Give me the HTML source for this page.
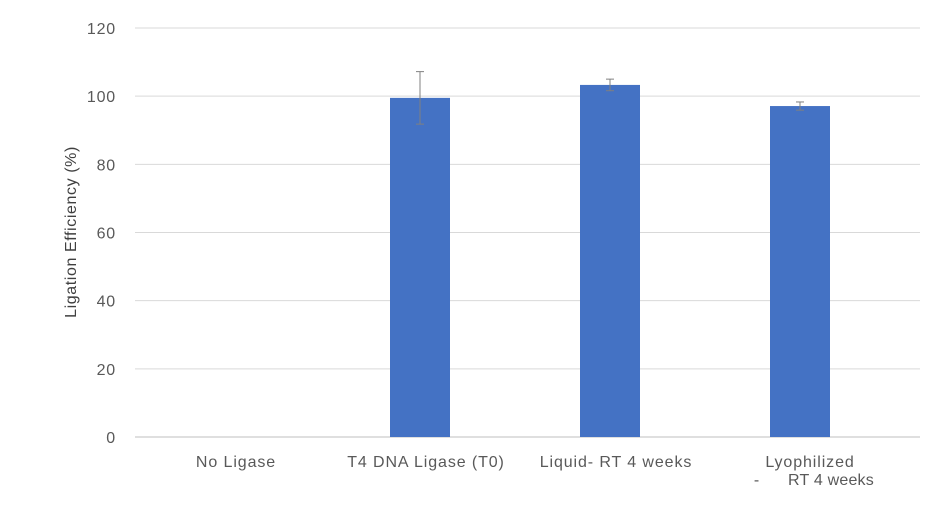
<!DOCTYPE html>
<html>
<head>
<meta charset="utf-8">
<style>
html,body{margin:0;padding:0;background:#fff;}
svg{display:block;font-family:"Liberation Sans","Noto Sans CJK SC",sans-serif;}
</style>
</head>
<body>
<svg id="chart" width="945" height="507" viewBox="0 0 945 507">
  <g id="grid"></g>
  <g id="yticks"></g>
  <g id="bars"></g>
  <g id="errs"></g>
  <g id="xlabels"></g>
  <text transform="translate(76,232) rotate(-90)" text-anchor="middle" font-size="16" letter-spacing="0.6" fill="#404040">Ligation Efficiency (%)</text>
</svg>
<script>
const categories = ["No Ligase", "T4 DNA Ligase (T0)", "Liquid- RT 4 weeks", "Lyophilized - RT 4 weeks"];
const values = [0, 99.5, 103.3, 97.1];
const errors = [0, 7.7, 1.7, 1.2];
const yTicks = [0, 20, 40, 60, 80, 100, 120];

const NS = "http://www.w3.org/2000/svg";
const plotLeft = 135, plotRight = 895, y0 = 437, yTop = 28, yMax = 120;
const band = (plotRight - plotLeft) / categories.length;
const barW = 60;
function yScale(v){ return y0 - (v / yMax) * (y0 - yTop); }
function xCenter(i){ return plotLeft + band * (i + 0.5); }
function mk(tag, attrs, parent){ const e = document.createElementNS(NS, tag); for (const k in attrs) e.setAttribute(k, attrs[k]); parent.appendChild(e); return e; }

const grid = document.getElementById("grid"), yt = document.getElementById("yticks");
yTicks.forEach(t => {
  const y = yScale(t);
  const l = mk("line", {x1: plotLeft, x2: 920, y1: y, y2: y, stroke: t === 0 ? "#bfbfbf" : "#d9d9d9", "stroke-width": 1}, grid);
  
  
  const tx = mk("text", {x: 116, y: y + 6, "text-anchor": "end", "font-size": 16, "letter-spacing": 0.8, fill: "#595959"}, yt);
  tx.textContent = t;
  
  
});

const bars = document.getElementById("bars"), errs = document.getElementById("errs"), xl = document.getElementById("xlabels");
categories.forEach((c, i) => {
  const cx = xCenter(i);
  if (values[i] > 0) {
    const r = mk("rect", {x: cx - barW/2, y: yScale(values[i]), width: barW, height: y0 - yScale(values[i]), fill: "#4472c4"}, bars);
    
    
  }
  if (errors[i] > 0) {
    const top = yScale(values[i] + errors[i]), bot = yScale(values[i] - errors[i]);
    const g = mk("g", {stroke: "#808080", "stroke-width": 1}, errs);
    
    
    mk("line", {x1: cx, x2: cx, y1: top, y2: bot}, g);
    mk("line", {x1: cx - 4, x2: cx + 4, y1: top, y2: top}, g);
    mk("line", {x1: cx - 4, x2: cx + 4, y1: bot, y2: bot}, g);
  }
  const t = mk("text", {"text-anchor": "middle", "font-size": 16, "letter-spacing": 0.9, fill: "#595959"}, xl);
  
  
  if (c.indexOf(" - ") >= 0) {
    const parts = c.split(" - ");
    const a = mk("tspan", {x: cx + 10, y: 467}, t); a.textContent = parts[0];
    const d = mk("tspan", {x: cx - 43, y: 485}, t); d.textContent = "-";
    const b = mk("tspan", {x: cx + 31, y: 485, "letter-spacing": 0.2}, t); b.textContent = parts[1];
  } else {
    const a = mk("tspan", {x: cx + 6, y: 467}, t); a.textContent = c;
  }
});
</script>
</body>
</html>
